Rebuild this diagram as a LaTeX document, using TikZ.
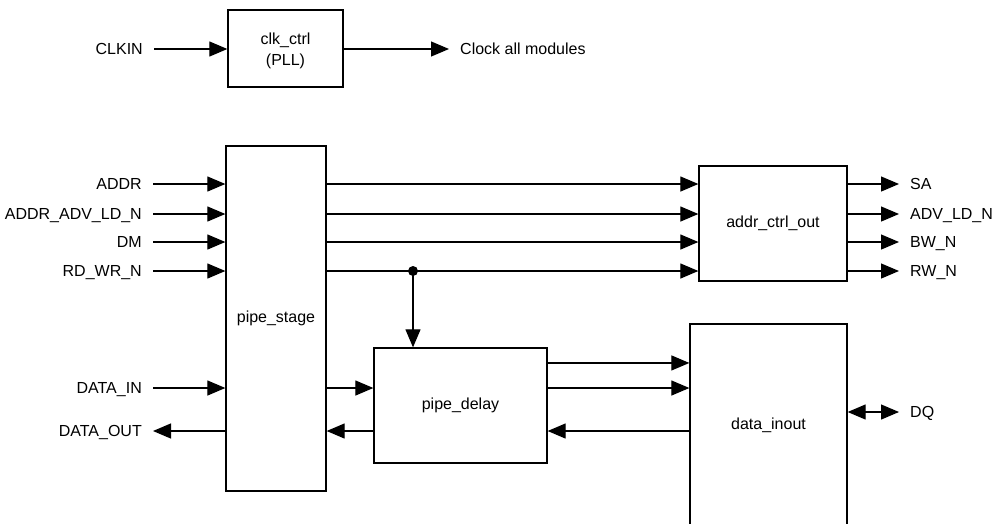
\documentclass[tikz,border=0pt]{standalone}
\usepackage{fontspec}
\setmainfont{Liberation Sans}
\usetikzlibrary{arrows.meta}

\begin{document}
\begin{tikzpicture}[x=1pt, y=-1pt, font=\fontsize{16}{21}\selectfont,
  block/.style={draw, line width=1.3pt, inner sep=2pt},
  signame/.style={inner xsep=11pt, inner ysep=0pt, text height=11pt, text depth=0pt},
  sig/.style={draw, line width=1.2pt, -{Triangle[length=18pt, width=15pt]}},
  bisig/.style={draw, line width=1.2pt, {Triangle[length=18pt, width=15pt]}-{Triangle[length=18pt, width=15pt]}}]
\useasboundingbox (0,0) rectangle (1000,523);
% blocks
\node [block, minimum width=115pt, minimum height=77pt] (clk) at (285.5,48.5) {};
\node [align=center] at (285.5,51) {clk\_ctrl\\(PLL)};
\node [block, minimum width=100pt, minimum height=345pt] (ps) at (276,318.5) {pipe\_stage};
\node [block, minimum width=173pt, minimum height=115pt] (pd) at (460.5,405.5) {pipe\_delay};
\node [block, minimum width=148pt, minimum height=115pt] (ac) at (773,223.5) {addr\_ctrl\_out};
\node [block, minimum width=157pt, minimum height=212pt] (di) at (768.5,430) {};
\node at (768.5,425) {data\_inout};
% signal names
\node [signame, left] (clkin) at (154,49) {CLKIN};
\node [signame, right] (clkout) at (449,49) {Clock all modules};
\node [signame, left] (addr) at (153,184) {ADDR};
\node [signame, left] (adv) at (153,214) {ADDR\_ADV\_LD\_N};
\node [signame, left] (dm) at (153,242) {DM};
\node [signame, left] (rdwr) at (153,271) {RD\_WR\_N};
\node [signame, left] (din) at (153,388) {DATA\_IN};
\node [signame, left] (dout) at (153,431) {DATA\_OUT};
\node [signame, right] (sa) at (899,184) {SA};
\node [signame, right] (advo) at (899,214) {ADV\_LD\_N};
\node [signame, right] (bw) at (899,242) {BW\_N};
\node [signame, right] (rw) at (899,271) {RW\_N};
\node [signame, right] (dq) at (899,412) {DQ};
% clock
\path [sig] (clkin.east) -- (clk.west |- clkin);
\path [sig] (clk.east |- clkout) -- (clkout.west);
% inputs and outputs of pipe_stage
\foreach \s in {addr,adv,dm,rdwr,din}
  \path [sig] (\s.east) -- (\s -| ps.west);
\path [sig] (dout -| ps.west) -- (dout.east);
% pipe_stage to addr_ctrl_out
\foreach \s in {addr,adv,dm,rdwr}
  \path [sig] (\s -| ps.east) -- (\s -| ac.west);
\foreach \s in {sa,advo,bw,rw}
  \path [sig] (\s -| ac.east) -- (\s.west);
% branch to pipe_delay
\coordinate (br) at (413,271);
\fill (br) circle (5pt);
\path [sig] (br) -- (br |- pd.north);
% data path
\path [sig] (din -| ps.east) -- (din -| pd.west);
\path [sig] (dout -| pd.west) -- (dout -| ps.east);
\path [sig] ([yshift=-15.6pt]pd.north east) -- ([yshift=-15.6pt]pd.north east -| di.west);
\path [sig] (din -| pd.east) -- (din -| di.west);
\path [sig] (dout -| di.west) -- (dout -| pd.east);
\path [bisig] (dq -| di.east) -- (dq.west);
\end{tikzpicture}
\end{document}
